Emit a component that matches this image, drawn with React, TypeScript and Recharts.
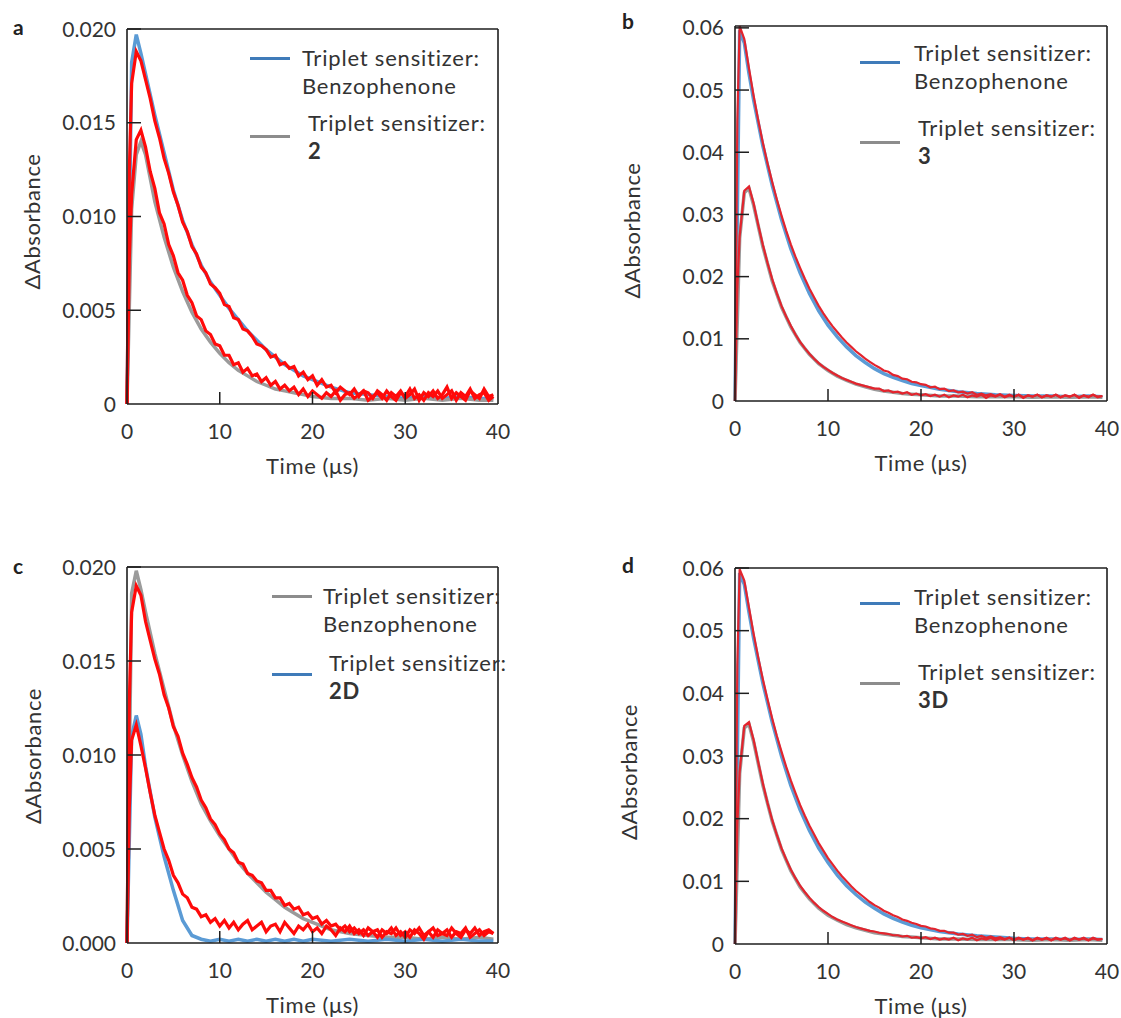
import React from 'react';
import { LineChart, Line, XAxis, YAxis, Legend } from 'recharts';

// ---------- data ----------
// time grid of the overlaid (red) traces, µs
const fineTime = [
  0, 0.25, 0.5, 1, 1.5, 2, 2.5, 3, 3.5, 4,
  4.5, 5, 5.5, 6, 6.5, 7, 7.5, 8, 8.5, 9,
  9.5, 10, 10.5, 11, 11.5, 12, 12.5, 13, 13.5, 14,
  14.5, 15, 15.5, 16, 16.5, 17, 17.5, 18, 18.5, 19,
  19.5, 20, 20.5, 21, 21.5, 22, 22.5, 23, 23.5, 24,
  24.5, 25, 25.5, 26, 26.5, 27, 27.5, 28, 28.5, 29,
  29.5, 30, 30.5, 31, 31.5, 32, 32.5, 33, 33.5, 34,
  34.5, 35, 35.5, 36, 36.5, 37, 37.5, 38, 38.5, 39,
  39.5,
];

// time grid of the underlying coloured traces, µs
const coarseTime = [
  0, 0.5, 1, 1.5, 2, 3, 4, 5, 6, 7, 8, 9, 10, 11, 12, 13, 14, 15, 16, 17, 18, 19, 20,
  22, 24, 26, 28, 30, 32, 34, 36, 38, 39.5,
];

const timeTicks = [0, 10, 20, 30, 40];
const smallAbsTicks = [0, 0.005, 0.01, 0.015, 0.02];
const largeAbsTicks = [0, 0.01, 0.02, 0.03, 0.04, 0.05, 0.06];

// panel a: benzophenone vs 2
const aBenzoRed = [
  0, 0.0124, 0.0171, 0.0188, 0.0183, 0.0173, 0.0163, 0.0151, 0.0142, 0.0131,
  0.0123, 0.0113, 0.0106, 0.0097, 0.0092, 0.0084, 0.0080, 0.0073, 0.0070, 0.0064,
  0.0062, 0.0059, 0.0053, 0.0052, 0.0046, 0.0045, 0.0040, 0.0039, 0.0036, 0.0032,
  0.0031, 0.0029, 0.0025, 0.0026, 0.0021, 0.0022, 0.0019, 0.0020, 0.0015, 0.0017,
  0.0013, 0.0015, 0.0010, 0.0013, 0.0009, 0.0010, 0.0006, 0.0009, 0.0007, 0.0005,
  0.0008, 0.0004, 0.0007, 0.0006, 0.0003, 0.0007, 0.0005, 0.0002, 0.0006, 0.0004,
  0.0007, 0.0003, 0.0005, 0.0008, 0.0002, 0.0006, 0.0004, 0.0007, 0.0003, 0.0005,
  0.0009, 0.0003, 0.0006, 0.0004, 0.0002, 0.0007, 0.0005, 0.0003, 0.0008, 0.0004,
  0.0005,
];
const a2Red = [
  0, 0.0078, 0.0112, 0.0141, 0.0146, 0.0137, 0.0124, 0.0115, 0.0102, 0.0096,
  0.0085, 0.0079, 0.0070, 0.0066, 0.0058, 0.0054, 0.0047, 0.0045, 0.0039, 0.0037,
  0.0032, 0.0031, 0.0026, 0.0026, 0.0021, 0.0022, 0.0017, 0.0019, 0.0015, 0.0016,
  0.0012, 0.0014, 0.0010, 0.0012, 0.0008, 0.0010, 0.0007, 0.0009, 0.0005, 0.0008,
  0.0004, 0.0007, 0.0005, 0.0003, 0.0006, 0.0004, 0.0007, 0.0002, 0.0005, 0.0006,
  0.0003, 0.0005, 0.0007, 0.0002, 0.0004, 0.0006, 0.0003, 0.0007, 0.0004, 0.0002,
  0.0006, 0.0004, 0.0008, 0.0003, 0.0005, 0.0002, 0.0006, 0.0004, 0.0007, 0.0003,
  0.0005, 0.0007, 0.0002, 0.0006, 0.0004, 0.0008, 0.0003, 0.0005, 0.0006, 0.0002,
  0.0004,
];
const aBenzoBlue = [
  0, 0.0182, 0.0197, 0.0187, 0.0176, 0.0154, 0.0134, 0.0114, 0.0098, 0.0085, 0.0074, 0.0065,
  0.0058, 0.0051, 0.0045, 0.0039, 0.0034, 0.0029, 0.0025, 0.0021, 0.0018, 0.0015, 0.0013,
  0.0009, 0.0006, 0.0005, 0.0004, 0.0003, 0.0004, 0.0003, 0.0004, 0.0003, 0.0003,
];
const a2Gray = [
  0, 0.0104, 0.0133, 0.0140, 0.0133, 0.0108, 0.0089, 0.0073, 0.0060, 0.0049, 0.0040, 0.0033,
  0.0027, 0.0022, 0.0018, 0.0015, 0.0012, 0.0010, 0.0008, 0.0007, 0.0006, 0.0005, 0.0004,
  0.0003, 0.0003, 0.0002, 0.0003, 0.0002, 0.0003, 0.0002, 0.0003, 0.0002, 0.0002,
];

// panel b: benzophenone vs 3
const bBenzoRed = [
  0, 0.0450, 0.0603, 0.0582, 0.0535, 0.0491, 0.0451, 0.0415, 0.0382, 0.0352,
  0.0324, 0.0298, 0.0274, 0.0252, 0.0232, 0.0214, 0.0197, 0.0181, 0.0167, 0.0153,
  0.0141, 0.0130, 0.0120, 0.0111, 0.0102, 0.0094, 0.0087, 0.0080, 0.0074, 0.0068,
  0.0063, 0.0058, 0.0054, 0.0049, 0.0047, 0.0042, 0.0040, 0.0036, 0.0035, 0.0031,
  0.0030, 0.0027, 0.0026, 0.0022, 0.0023, 0.0019, 0.0020, 0.0016, 0.0017, 0.0014,
  0.0015, 0.0012, 0.0014, 0.0010, 0.0012, 0.0009, 0.0011, 0.0008, 0.0011, 0.0007,
  0.0010, 0.0007, 0.0010, 0.0006, 0.0009, 0.0007, 0.0010, 0.0006, 0.0009, 0.0007,
  0.0010, 0.0006, 0.0009, 0.0007, 0.0010, 0.0006, 0.0009, 0.0007, 0.0010, 0.0006,
  0.0008,
];
const b3Red = [
  0, 0.0180, 0.0265, 0.0338, 0.0345, 0.0318, 0.0283, 0.0251, 0.0222, 0.0196,
  0.0173, 0.0153, 0.0136, 0.0121, 0.0107, 0.0095, 0.0085, 0.0076, 0.0068, 0.0061,
  0.0055, 0.0050, 0.0045, 0.0041, 0.0037, 0.0034, 0.0031, 0.0028, 0.0026, 0.0024,
  0.0022, 0.0020, 0.0020, 0.0016, 0.0017, 0.0014, 0.0015, 0.0012, 0.0014, 0.0010,
  0.0012, 0.0009, 0.0011, 0.0008, 0.0010, 0.0007, 0.0010, 0.0006, 0.0009, 0.0007,
  0.0010, 0.0006, 0.0009, 0.0007, 0.0010, 0.0005, 0.0009, 0.0007, 0.0010, 0.0006,
  0.0009, 0.0007, 0.0010, 0.0005, 0.0009, 0.0007, 0.0010, 0.0006, 0.0009, 0.0007,
  0.0010, 0.0006, 0.0009, 0.0007, 0.0010, 0.0005, 0.0009, 0.0006, 0.0010, 0.0007,
  0.0008,
];
const bBenzoBlue = [
  0, 0.0596, 0.0576, 0.0527, 0.0484, 0.0410, 0.0347, 0.0292, 0.0245, 0.0206, 0.0173, 0.0145,
  0.0122, 0.0103, 0.0087, 0.0073, 0.0062, 0.0052, 0.0044, 0.0038, 0.0033, 0.0028, 0.0025,
  0.0019, 0.0015, 0.0012, 0.0010, 0.0009, 0.0008, 0.0008, 0.0007, 0.0008, 0.0007,
];
const b3Gray = [
  0, 0.0262, 0.0335, 0.0342, 0.0315, 0.0248, 0.0193, 0.0151, 0.0119, 0.0094, 0.0075, 0.0060,
  0.0049, 0.0040, 0.0033, 0.0027, 0.0023, 0.0019, 0.0016, 0.0014, 0.0012, 0.0011, 0.0010,
  0.0008, 0.0008, 0.0007, 0.0007, 0.0007, 0.0006, 0.0007, 0.0006, 0.0007, 0.0006,
];

// panel c: benzophenone vs 2D
const cBenzoRed = [
  0, 0.0128, 0.0176, 0.0190, 0.0185, 0.0171, 0.0161, 0.0151, 0.0143, 0.0132,
  0.0125, 0.0115, 0.0110, 0.0101, 0.0095, 0.0088, 0.0083, 0.0076, 0.0072, 0.0066,
  0.0063, 0.0058, 0.0055, 0.0050, 0.0048, 0.0043, 0.0042, 0.0037, 0.0036, 0.0033,
  0.0032, 0.0028, 0.0028, 0.0024, 0.0024, 0.0020, 0.0021, 0.0018, 0.0019, 0.0015,
  0.0016, 0.0013, 0.0014, 0.0010, 0.0012, 0.0009, 0.0010, 0.0007, 0.0009, 0.0006,
  0.0008, 0.0005, 0.0007, 0.0004, 0.0006, 0.0007, 0.0003, 0.0006, 0.0005, 0.0008,
  0.0004, 0.0006, 0.0003, 0.0007, 0.0005, 0.0002, 0.0006, 0.0008, 0.0004, 0.0005,
  0.0007, 0.0003, 0.0006, 0.0005, 0.0008, 0.0003, 0.0005, 0.0007, 0.0004, 0.0006,
  0.0005,
];
const c2DRed = [
  0, 0.0072, 0.0108, 0.0116, 0.0105, 0.0093, 0.0080, 0.0068, 0.0059, 0.0050,
  0.0044, 0.0036, 0.0032, 0.0026, 0.0024, 0.0019, 0.0018, 0.0014, 0.0015, 0.0011,
  0.0013, 0.0009, 0.0012, 0.0008, 0.0011, 0.0007, 0.0010, 0.0012, 0.0007, 0.0009,
  0.0011, 0.0006, 0.0009, 0.0010, 0.0006, 0.0011, 0.0008, 0.0005, 0.0009, 0.0007,
  0.0010, 0.0006, 0.0008, 0.0005, 0.0009, 0.0007, 0.0004, 0.0008, 0.0006, 0.0009,
  0.0005, 0.0007, 0.0004, 0.0008, 0.0006, 0.0003, 0.0007, 0.0005, 0.0008, 0.0004,
  0.0006, 0.0003, 0.0007, 0.0005, 0.0008, 0.0004, 0.0006, 0.0003, 0.0007, 0.0005,
  0.0004, 0.0008, 0.0005, 0.0003, 0.0007, 0.0005, 0.0008, 0.0004, 0.0006, 0.0007,
  0.0005,
];
const cBenzoGray = [
  0, 0.0186, 0.0198, 0.0188, 0.0176, 0.0154, 0.0135, 0.0116, 0.0100, 0.0086, 0.0074, 0.0065,
  0.0057, 0.0050, 0.0043, 0.0037, 0.0032, 0.0027, 0.0023, 0.0019, 0.0016, 0.0013, 0.0011,
  0.0007, 0.0005, 0.0004, 0.0003, 0.0003, 0.0002, 0.0003, 0.0002, 0.0003, 0.0002,
];
const c2DBlue = [
  0, 0.0110, 0.0121, 0.0111, 0.0094, 0.0067, 0.0046, 0.0028, 0.0012, 0.0004, 0.0002, 0.0001,
  0.0002, 0.0001, 0.0002, 0.0001, 0.0002, 0.0001, 0.0002, 0.0001, 0.0002, 0.0001, 0.0002,
  0.0001, 0.0002, 0.0001, 0.0002, 0.0001, 0.0002, 0.0001, 0.0002, 0.0001, 0.0001,
];

// panel d: benzophenone vs 3D
const dBenzoRed = [
  0, 0.0445, 0.0598, 0.0580, 0.0537, 0.0495, 0.0457, 0.0422, 0.0390, 0.0360,
  0.0332, 0.0307, 0.0283, 0.0261, 0.0241, 0.0222, 0.0205, 0.0189, 0.0175, 0.0161,
  0.0149, 0.0137, 0.0127, 0.0117, 0.0108, 0.0100, 0.0092, 0.0085, 0.0079, 0.0073,
  0.0067, 0.0062, 0.0058, 0.0053, 0.0050, 0.0046, 0.0043, 0.0039, 0.0037, 0.0034,
  0.0032, 0.0029, 0.0028, 0.0025, 0.0024, 0.0021, 0.0021, 0.0018, 0.0018, 0.0015,
  0.0016, 0.0013, 0.0015, 0.0011, 0.0013, 0.0010, 0.0012, 0.0009, 0.0011, 0.0008,
  0.0010, 0.0007, 0.0010, 0.0007, 0.0009, 0.0006, 0.0010, 0.0007, 0.0009, 0.0006,
  0.0010, 0.0007, 0.0009, 0.0006, 0.0010, 0.0007, 0.0009, 0.0006, 0.0010, 0.0007,
  0.0008,
];
const d3DRed = [
  0, 0.0190, 0.0275, 0.0348, 0.0354, 0.0326, 0.0290, 0.0256, 0.0225, 0.0198,
  0.0174, 0.0153, 0.0135, 0.0119, 0.0105, 0.0093, 0.0083, 0.0074, 0.0066, 0.0059,
  0.0053, 0.0048, 0.0043, 0.0039, 0.0036, 0.0033, 0.0030, 0.0027, 0.0025, 0.0023,
  0.0021, 0.0020, 0.0018, 0.0017, 0.0016, 0.0014, 0.0014, 0.0012, 0.0013, 0.0010,
  0.0011, 0.0009, 0.0011, 0.0008, 0.0010, 0.0007, 0.0009, 0.0007, 0.0010, 0.0006,
  0.0009, 0.0007, 0.0010, 0.0006, 0.0009, 0.0007, 0.0010, 0.0006, 0.0009, 0.0007,
  0.0010, 0.0006, 0.0009, 0.0007, 0.0010, 0.0006, 0.0009, 0.0007, 0.0010, 0.0006,
  0.0009, 0.0007, 0.0010, 0.0006, 0.0009, 0.0007, 0.0010, 0.0006, 0.0009, 0.0007,
  0.0008,
];
const dBenzoBlue = [
  0, 0.0592, 0.0574, 0.0530, 0.0488, 0.0416, 0.0354, 0.0300, 0.0253, 0.0214, 0.0181, 0.0153,
  0.0130, 0.0110, 0.0093, 0.0079, 0.0067, 0.0057, 0.0048, 0.0041, 0.0035, 0.0030, 0.0026,
  0.0020, 0.0016, 0.0013, 0.0011, 0.0009, 0.0008, 0.0008, 0.0007, 0.0008, 0.0007,
];
const d3DGray = [
  0, 0.0272, 0.0345, 0.0351, 0.0323, 0.0253, 0.0196, 0.0151, 0.0117, 0.0091, 0.0072, 0.0057,
  0.0046, 0.0038, 0.0031, 0.0026, 0.0022, 0.0018, 0.0016, 0.0014, 0.0012, 0.0011, 0.0010,
  0.0008, 0.0008, 0.0007, 0.0007, 0.0007, 0.0006, 0.0007, 0.0006, 0.0007, 0.0006,
];

const legendHead = 'Triplet sensitizer:';

// ---------- styling ----------
const FONT = 'Lato, "Open Sans", "DejaVu Sans", sans-serif';
const INK = '#333333';
const FRAME = '#1e1e1e';
const BLUE_TRACE = '#5b9bd5';
const GRAY_TRACE = '#9b9b9b';
const BLUE_KEY = '#3f7bb9';
const GRAY_KEY = '#8c8c8c';
const RED_NOISY = '#ff0a0a';
const RED_SMOOTH = '#e3242d';

const tickStyle = { fontFamily: FONT, fontSize: 21, fill: INK };
const titleStyle = { fontFamily: FONT, fontSize: 22, fill: INK, letterSpacing: '0.6px' };

type LegendItem = {
  color: string;
  name: string;
  bold: boolean;
  swatchY: number;
  textX: number;
  textY: number;
};

type PanelSpec = {
  letter: string;
  left: number;
  top: number;
  width: number;
  height: number;
  margin: { top: number; right: number; bottom: number; left: number };
  letterPos: { x: number; y: number };
  yMax: number;
  yTicks: number[];
  yFormat: (v: number) => string;
  yTitleDx: number;
  yTitleDy: number;
  redA: number[];
  redB: number[];
  underA: number[];
  underB: number[];
  underAColor: string;
  underBColor: string;
  red: string;
  redWidth: number;
  legendPos: { x: number; y: number };
  legend: LegendItem[];
};

const fmtSmall = (v: number) => (v === 0 ? '0' : v.toFixed(3));
const fmtSmallZero = (v: number) => v.toFixed(3);
const fmtLarge = (v: number) => (v === 0 ? '0' : v.toFixed(2));

// margins leave 1px for each (thin) axis band, so the frame sits on the plot edge
const panels: PanelSpec[] = [
  {
    letter: 'a', left: 0, top: 0, width: 560, height: 509,
    margin: { top: 28, right: 61, bottom: 104, left: 126 },
    letterPos: { x: 13, y: 15 },
    yMax: 0.02, yTicks: smallAbsTicks, yFormat: fmtSmall, yTitleDx: 95, yTitleDy: 5,
    redA: aBenzoRed, redB: a2Red, underA: aBenzoBlue, underB: a2Gray,
    underAColor: BLUE_TRACE, underBColor: GRAY_TRACE, red: RED_NOISY, redWidth: 3.2,
    legendPos: { x: 250, y: 40 },
    legend: [
      { color: BLUE_KEY, name: 'Benzophenone', bold: false, swatchY: 18, textX: 52, textY: 4 },
      { color: GRAY_KEY, name: '2', bold: true, swatchY: 96, textX: 58, textY: 69 },
    ],
  },
  {
    letter: 'b', left: 560, top: 0, width: 561, height: 509,
    margin: { top: 25, right: 13, bottom: 107, left: 174 },
    letterPos: { x: 62, y: 9 },
    yMax: 0.06, yTicks: largeAbsTicks, yFormat: fmtLarge, yTitleDx: 103, yTitleDy: 17,
    redA: bBenzoRed, redB: b3Red, underA: bBenzoBlue, underB: b3Gray,
    underAColor: BLUE_TRACE, underBColor: GRAY_TRACE, red: RED_SMOOTH, redWidth: 2.2,
    legendPos: { x: 300, y: 36 },
    legend: [
      { color: BLUE_KEY, name: 'Benzophenone', bold: false, swatchY: 26, textX: 54, textY: 3 },
      { color: GRAY_KEY, name: '3', bold: true, swatchY: 106, textX: 58, textY: 78 },
    ],
  },
  {
    letter: 'c', left: 0, top: 509, width: 560, height: 509,
    margin: { top: 57, right: 61, bottom: 74, left: 126 },
    letterPos: { x: 13, y: 45 },
    yMax: 0.02, yTicks: smallAbsTicks, yFormat: fmtSmallZero, yTitleDx: 94, yTitleDy: 1,
    redA: cBenzoRed, redB: c2DRed, underA: cBenzoGray, underB: c2DBlue,
    underAColor: GRAY_TRACE, underBColor: BLUE_TRACE, red: RED_NOISY, redWidth: 3.2,
    legendPos: { x: 272, y: 61 },
    legend: [
      { color: GRAY_KEY, name: 'Benzophenone', bold: false, swatchY: 26, textX: 51, textY: 12 },
      { color: BLUE_KEY, name: '2D', bold: true, swatchY: 104, textX: 57, textY: 79 },
    ],
  },
  {
    letter: 'd', left: 560, top: 509, width: 561, height: 509,
    margin: { top: 58, right: 13, bottom: 73, left: 174 },
    letterPos: { x: 62, y: 44 },
    yMax: 0.06, yTicks: largeAbsTicks, yFormat: fmtLarge, yTitleDx: 106, yTitleDy: 16,
    redA: dBenzoRed, redB: d3DRed, underA: dBenzoBlue, underB: d3DGray,
    underAColor: BLUE_TRACE, underBColor: GRAY_TRACE, red: RED_SMOOTH, redWidth: 2.2,
    legendPos: { x: 300, y: 61 },
    legend: [
      { color: BLUE_KEY, name: 'Benzophenone', bold: false, swatchY: 33, textX: 54, textY: 13 },
      { color: GRAY_KEY, name: '3D', bold: true, swatchY: 113, textX: 58, textY: 88 },
    ],
  },
];

// ---------- axis pieces ----------
const makeYTick = (fmt: (v: number) => string) => (props: any) => {
  const { x, y, payload } = props;
  const v = payload.value as number;
  return (
    <g>
      {v > 0 ? <line x1={x} y1={y} x2={x + 14} y2={y} stroke={FRAME} strokeWidth={1.5} /> : null}
      <text x={x - 11} y={y} dy="0.36em" textAnchor="end" style={tickStyle}>
        {fmt(v)}
      </text>
    </g>
  );
};

const renderXTick = (props: any) => {
  const { x, y, payload } = props;
  const v = payload.value as number;
  return (
    <g>
      {v > 0 && v < 40 ? <line x1={x} y1={y} x2={x} y2={y - 12} stroke={FRAME} strokeWidth={1.5} /> : null}
      <text x={x} y={y + 27} dy="0.36em" textAnchor="middle" style={tickStyle}>
        {v}
      </text>
    </g>
  );
};

const renderXTitle = (props: any) => {
  const vb = props.viewBox || { x: 0, y: 0, width: 0, height: 0 };
  return (
    <text x={vb.x + vb.width / 2} y={vb.y + 62} dy="0.36em" textAnchor="middle" style={titleStyle}>
      Time (μs)
    </text>
  );
};

const makeYTitle = (dx: number, dy: number) => (props: any) => {
  const vb = props.viewBox || { x: 0, y: 0, width: 0, height: 0 };
  const cx = vb.x + (vb.width || 0) - dx;
  const cy = vb.y + vb.height / 2 + dy;
  return (
    <text x={cx} y={cy} dy="0.36em" textAnchor="middle" transform={`rotate(-90, ${cx}, ${cy})`} style={titleStyle}>
      ΔAbsorbance
    </text>
  );
};

const makeLegend = (items: LegendItem[]) => () => (
  <div style={{ position: 'relative', width: 270, height: 150, fontFamily: FONT, fontSize: 22, color: INK, letterSpacing: '0.8px' }}>
    {items.map((it) => (
      <React.Fragment key={it.name}>
        <div style={{ position: 'absolute', left: 0, top: it.swatchY - 1.5, width: 40, height: 3, background: it.color }} />
        <div style={{ position: 'absolute', left: it.textX, top: it.textY, lineHeight: '28px', whiteSpace: 'nowrap' }}>
          <div>{legendHead}</div>
          <div style={{ fontWeight: it.bold ? 700 : 400 }}>{it.name}</div>
        </div>
      </React.Fragment>
    ))}
  </div>
);

function Panel({ spec }: { spec: PanelSpec }) {
  const fineRows = fineTime.map((t, i) => ({ t, first: spec.redA[i], second: spec.redB[i] }));
  const coarseRows = coarseTime.map((t, i) => ({ t, first: spec.underA[i], second: spec.underB[i] }));
  const frame = { stroke: FRAME, strokeWidth: 1.6 };
  return (
    <div style={{ position: 'absolute', left: spec.left, top: spec.top, width: spec.width, height: spec.height }}>
      <div
        style={{
          position: 'absolute', left: spec.letterPos.x, top: spec.letterPos.y, zIndex: 2,
          fontFamily: FONT, fontSize: 21, fontWeight: 700, lineHeight: '24px', color: '#222',
        }}
      >
        {spec.letter}
      </div>
      <LineChart width={spec.width} height={spec.height} margin={spec.margin} data={fineRows}>
        <XAxis
          dataKey="t" type="number" domain={[0, 40]} ticks={timeTicks} height={1}
          tickSize={0} tickMargin={0} tickLine={false} axisLine={frame}
          tick={renderXTick} label={{ content: renderXTitle }}
        />
        <XAxis
          xAxisId="frameTop" orientation="top" dataKey="t" type="number" domain={[0, 40]} ticks={[0, 40]}
          height={1} tick={false} tickLine={false} axisLine={frame}
        />
        <YAxis
          type="number" domain={[0, spec.yMax]} ticks={spec.yTicks} width={1}
          tickSize={0} tickMargin={0} tickLine={false} axisLine={frame}
          tick={makeYTick(spec.yFormat)} label={{ content: makeYTitle(spec.yTitleDx, spec.yTitleDy) }}
        />
        <YAxis
          yAxisId="frameRight" orientation="right" type="number" domain={[0, spec.yMax]} ticks={[0, spec.yMax]}
          width={1} tick={false} tickLine={false} axisLine={frame}
        />
        <Line data={coarseRows} dataKey="first" stroke={spec.underAColor} strokeWidth={3.5} dot={false} isAnimationActive={false} />
        <Line data={coarseRows} dataKey="second" stroke={spec.underBColor} strokeWidth={3.5} dot={false} isAnimationActive={false} />
        <Line dataKey="first" stroke={spec.red} strokeWidth={spec.redWidth} dot={false} isAnimationActive={false} />
        <Line dataKey="second" stroke={spec.red} strokeWidth={spec.redWidth} dot={false} isAnimationActive={false} />
        <Legend
          layout="horizontal" verticalAlign="middle" align="center"
          content={makeLegend(spec.legend)}
          wrapperStyle={{ left: spec.legendPos.x, top: spec.legendPos.y, width: 270, height: 150 }}
        />
      </LineChart>
    </div>
  );
}

export default function App() {
  return (
    <div style={{ position: 'absolute', left: 0, top: 0, width: 1121, height: 1018, background: '#ffffff' }}>
      {panels.map((p) => (
        <Panel key={p.letter} spec={p} />
      ))}
    </div>
  );
}
